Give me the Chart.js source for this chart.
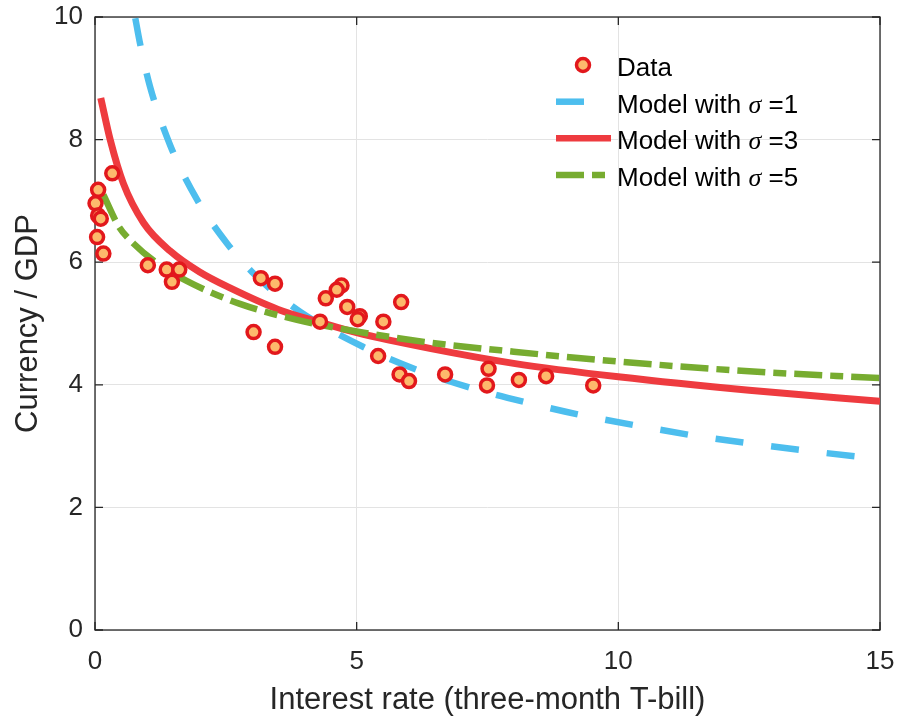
<!DOCTYPE html>
<html>
<head>
<meta charset="utf-8">
<script src="https://cdn.jsdelivr.net/npm/chart.js@4/dist/chart.umd.min.js"></script>
<style>
  body { margin: 0; background: #fff; }
  #wrap { width: 898px; height: 719px; }
</style>
</head>
<body>
<div id="wrap"><canvas id="currency-chart" width="898" height="719"></canvas></div>
<script>
// observed data: interest rate vs currency / GDP
const dataRate = [0.33, 0.06, 0.01, 0.06, 0.11, 0.04, 0.16, 1.01, 1.37, 1.61, 1.47, 3.17, 3.44, 3.03, 3.44, 4.41, 4.71, 4.62, 4.82, 5.06, 5.02, 4.30, 5.85, 5.51, 5.41, 5.82, 6.00, 6.69, 7.52, 7.49, 8.10, 8.62, 9.52]
const dataCurrency = [7.45, 7.18, 6.96, 6.76, 6.71, 6.41, 6.14, 5.95, 5.88, 5.88, 5.68, 5.74, 5.65, 4.86, 4.62, 5.41, 5.62, 5.55, 5.27, 5.12, 5.07, 5.03, 5.35, 5.03, 4.47, 4.17, 4.06, 4.17, 4.26, 3.99, 4.08, 4.14, 3.99]

// model curves
const sigma1Rate = [0.77, 0.86, 1.05, 1.44, 1.95, 2.52, 3.0, 3.47, 4.05, 5.12, 6.16, 7.22, 8.30, 9.27, 10.45, 11.53, 12.63, 13.73, 15]
const sigma1Curr = [9.98, 9.57, 8.87, 7.9, 7.02, 6.31, 5.84, 5.48, 5.12, 4.62, 4.24, 3.94, 3.70, 3.51, 3.32, 3.16, 3.03, 2.91, 2.79]

const sigma3Rate = [0.11, 0.29, 0.54, 0.93, 1.44, 2.0, 2.58, 3.5, 4.3, 5, 6.42, 8, 10, 12.5, 15]
const sigma3Curr = [8.68, 8.0, 7.29, 6.64, 6.18, 5.84, 5.58, 5.23, 5.02, 4.85, 4.59, 4.35, 4.13, 3.91, 3.73]

const sigma5Rate = [0.16, 0.45, 0.73, 1.18, 1.76, 2.77, 3.86, 5, 6.29, 8, 10, 12.5, 15]
const sigma5Curr = [7.1, 6.59, 6.31, 5.99, 5.69, 5.32, 5.06, 4.87, 4.70, 4.54, 4.38, 4.22, 4.11]

const xTicks = [0, 5, 10, 15]
const yTicks = [0, 2, 4, 6, 8, 10]
const legendLabels = ['Data', 'Model with ', 'Model with ', 'Model with ']
const legendSigma = ['', '1', '3', '5']

const blue = '#4DBEEE'
const red = '#EE3B3F'
const green = '#77AC30'
const markerFill = '#FDB96C'
const markerEdge = '#E2181C'
const axisColor = '#262626'
const font = '"Liberation Sans", Arial, Helvetica, sans-serif'

function pairs(xs, ys) {
    let out = []
    for (let i = 0; i < xs.length; i++) {
        out.push({x: xs[i], y: ys[i]})
    }
    return out
}

// box around the axes with inward ticks (matlab style)
const boxPlugin = {
    id: 'box',
    beforeDatasetsDraw(chart) {
        const {ctx, chartArea: a, scales} = chart
        ctx.save()
        ctx.strokeStyle = axisColor
        ctx.lineWidth = 1.3
        ctx.strokeRect(a.left, a.top, a.right - a.left, a.bottom - a.top)
        const tl = 8
        ctx.beginPath()
        for (let t of xTicks) {
            const px = scales.x.getPixelForValue(t)
            ctx.moveTo(px, a.bottom); ctx.lineTo(px, a.bottom - tl)
            ctx.moveTo(px, a.top); ctx.lineTo(px, a.top + tl)
        }
        for (let t of yTicks) {
            const py = scales.y.getPixelForValue(t)
            ctx.moveTo(a.left, py); ctx.lineTo(a.left + tl, py)
            ctx.moveTo(a.right, py); ctx.lineTo(a.right - tl, py)
        }
        ctx.stroke()
        ctx.restore()
    }
}

const legendPlugin = {
    id: 'matlabLegend',
    afterDraw(chart) {
        const ctx = chart.ctx
        const rows = [65, 101.7, 138.3, 175]
        const styles = [null, {c: blue, d: [28, 28]}, {c: red, d: []}, {c: green, d: [28, 8, 13, 8]}]
        ctx.save()
        for (let i = 0; i < rows.length; i++) {
            const y = rows[i]
            if (i == 0) {
                ctx.beginPath()
                ctx.arc(583, y, 6.5, 0, Math.PI * 2)
                ctx.fillStyle = markerFill
                ctx.fill()
                ctx.lineWidth = 3.5
                ctx.strokeStyle = markerEdge
                ctx.stroke()
            } else {
                ctx.beginPath()
                ctx.setLineDash(styles[i].d)
                ctx.lineCap = 'butt'
                ctx.lineWidth = 6.5
                ctx.strokeStyle = styles[i].c
                ctx.moveTo(556, y)
                ctx.lineTo(611, y)
                ctx.stroke()
                ctx.setLineDash([])
            }
            // text sits a little lower than the marker
            const base = y + 11
            ctx.fillStyle = '#000'
            ctx.textBaseline = 'alphabetic'
            ctx.textAlign = 'left'
            ctx.font = '26px ' + font
            let x = 617
            ctx.fillText(legendLabels[i], x, base)
            if (legendSigma[i] != '') {
                x += ctx.measureText(legendLabels[i]).width
                ctx.font = 'italic 26px "Liberation Serif", "Times New Roman", serif'
                ctx.fillText('σ', x, base)
                x += ctx.measureText('σ').width
                ctx.font = '26px ' + font
                ctx.fillText(' =' + legendSigma[i], x, base)
            }
        }
        ctx.restore()
    }
}

function noOverhang(scale) {
    scale.paddingTop = 0
    scale.paddingBottom = 0
    scale.paddingLeft = 0
    scale.paddingRight = 0
}

const canvas = document.getElementById('currency-chart')
const chart = new Chart(canvas, {
    type: 'scatter',
    data: {
        datasets: [
            {
                label: 'Data',
                data: pairs(dataRate, dataCurrency),
                pointRadius: 6.5,
                pointBorderWidth: 3.5,
                pointBackgroundColor: markerFill,
                pointBorderColor: markerEdge,
                clip: false,
                order: 0
            },
            {
                label: 'Model with σ =1',
                data: pairs(sigma1Rate, sigma1Curr),
                showLine: true,
                pointRadius: 0,
                borderColor: blue,
                borderWidth: 6.5,
                borderDash: [28, 28],
                borderCapStyle: 'butt',
                cubicInterpolationMode: 'monotone',
                order: 3
            },
            {
                label: 'Model with σ =3',
                data: pairs(sigma3Rate, sigma3Curr),
                showLine: true,
                pointRadius: 0,
                borderColor: red,
                borderWidth: 7,
                cubicInterpolationMode: 'monotone',
                order: 2
            },
            {
                label: 'Model with σ =5',
                data: pairs(sigma5Rate, sigma5Curr),
                showLine: true,
                pointRadius: 0,
                borderColor: green,
                borderWidth: 6.5,
                borderDash: [28, 8, 13, 8],
                borderCapStyle: 'butt',
                cubicInterpolationMode: 'monotone',
                order: 1
            }
        ]
    },
    options: {
        responsive: false,
        animation: false,
        layout: {padding: {top: 17, right: 18, left: 0, bottom: 0}},
        plugins: {
            legend: {display: false},
            tooltip: {enabled: false}
        },
        scales: {
            x: {
                type: 'linear',
                min: 0,
                max: 15,
                afterBuildTicks(scale) { scale.ticks = xTicks.map(v => ({value: v})) },
                afterFit(scale) { scale.height = 89; noOverhang(scale) },
                grid: {color: '#E3E3E3', lineWidth: 1, drawTicks: false},
                border: {display: false},
                ticks: {color: axisColor, padding: 16, font: {size: 26, family: font}, maxRotation: 0},
                title: {display: true, text: 'Interest rate (three-month T-bill)', color: axisColor,
                        font: {size: 31, family: font}, padding: {top: 0, bottom: 0}}
            },
            y: {
                type: 'linear',
                min: 0,
                max: 10,
                afterBuildTicks(scale) { scale.ticks = yTicks.map(v => ({value: v})) },
                afterFit(scale) { scale.width = 95; noOverhang(scale) },
                grid: {color: '#E3E3E3', lineWidth: 1, drawTicks: false},
                border: {display: false},
                ticks: {color: axisColor, padding: 12, font: {size: 26, family: font}},
                title: {display: true, text: 'Currency / GDP', color: axisColor,
                        font: {size: 31, family: font}, padding: {top: 10, bottom: 0}}
            }
        }
    },
    plugins: [boxPlugin, legendPlugin]
})
</script>
</body>
</html>
